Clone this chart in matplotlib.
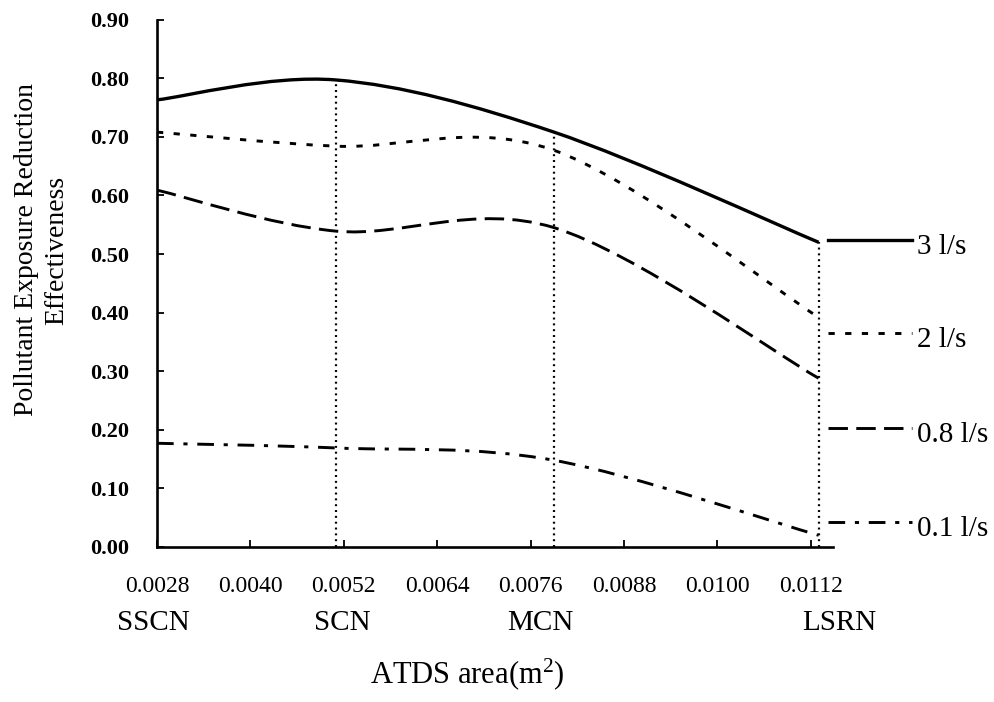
import matplotlib
matplotlib.use("Agg")
import matplotlib.pyplot as plt
from matplotlib.path import Path
from matplotlib.patches import PathPatch
from matplotlib.ticker import FormatStrFormatter

# data
cat_x = [0.0028, 0.0051, 0.0079, 0.0113]
cat_names = ["SSCN", "SCN", "MCN", "LSRN"]
flow_3 = [0.763, 0.797, 0.708, 0.520]
flow_2 = [0.708, 0.684, 0.677, 0.392]
flow_08 = [0.609, 0.539, 0.545, 0.288]
flow_01 = [0.177, 0.169, 0.148, 0.020]
series_labels = ["3 l/s", "2 l/s", "0.8 l/s", "0.1 l/s"]
x_ticks = [0.0028, 0.0040, 0.0052, 0.0064, 0.0076, 0.0088, 0.0100, 0.0112]
y_ticks = [0.0, 0.1, 0.2, 0.3, 0.4, 0.5, 0.6, 0.7, 0.8, 0.9]

plt.rcParams["font.family"] = ["Liberation Serif", "DejaVu Serif"]
plt.rcParams["lines.scale_dashes"] = False


def smooth_path(xs, ys):
    # excel style smoothed line: cubic bezier, control points at 1/6 of neighbour span
    pts = list(zip(xs, ys))
    n = len(pts)
    verts = [pts[0]]
    codes = [Path.MOVETO]
    for i in range(n - 1):
        p0 = pts[max(i - 1, 0)]
        p1 = pts[i]
        p2 = pts[i + 1]
        p3 = pts[min(i + 2, n - 1)]
        c1 = (p1[0] + (p2[0] - p0[0]) / 6, p1[1] + (p2[1] - p0[1]) / 6)
        c2 = (p2[0] - (p3[0] - p1[0]) / 6, p2[1] - (p3[1] - p1[1]) / 6)
        verts += [c1, c2, p2]
        codes += [Path.CURVE4] * 3
    return Path(verts, codes)


fig = plt.figure(figsize=(9.94, 7.02), dpi=100)
ax = fig.add_axes([157 / 994, 1 - 547 / 702, (833 - 157) / 994, (547 - 19.6) / 702])

styles = [
    dict(lw=2.4, ls="-"),
    dict(lw=2.1, ls=(0, (4.5, 7.5))),
    dict(lw=2.1, ls=(0, (14, 6))),
    dict(lw=2.1, ls=(0, (12, 7, 3, 7))),
]
all_series = [flow_3, flow_2, flow_08, flow_01]

# vertical guides up to the 3 l/s curve
ax.vlines(cat_x[1:], 0, flow_3[1:], colors="black", linestyles=(0, (1.4, 2.8)), lw=1.6)

for vals, st in zip(all_series, styles):
    patch = PathPatch(smooth_path(cat_x, vals), fill=False, edgecolor="black",
                      lw=st["lw"], linestyle=st["ls"], capstyle="butt")
    ax.add_patch(patch)

# right hand labels with line samples
label_y = [0.524, 0.365, 0.203, 0.043]
for lab, ly, st in zip(series_labels, label_y, styles):
    ax.plot([0.01142, 0.01250], [ly, ly], color="black", lw=st["lw"], ls=st["ls"], clip_on=False)
    ax.text(0.01256, ly - 0.012, lab, fontsize=21, ha="left", va="center", clip_on=False)

ax.set_xlim(0.0028, 0.011485)
ax.set_ylim(0, 0.9)
ax.set_xticks(x_ticks)
ax.set_yticks(y_ticks)
ax.xaxis.set_major_formatter(FormatStrFormatter("%.4f"))
ax.yaxis.set_major_formatter(FormatStrFormatter("%.2f"))

for s in ["top", "right"]:
    ax.spines[s].set_visible(False)
for s in ["left", "bottom"]:
    ax.spines[s].set_linewidth(1.9)

ax.tick_params(axis="both", direction="in", length=5, width=1.3, color="black")
ax.tick_params(axis="x", pad=21, labelsize=17)
ax.tick_params(axis="y", pad=20, labelsize=16)
for t in ax.get_yticklabels():
    t.set_fontweight("bold")

# category names under the tick labels
name_x = [0.00275, 0.00518, 0.00772, 0.01156]
for nx, name in zip(name_x, cat_names):
    ax.text(nx, -0.144, name, transform=ax.get_xaxis_transform(), fontsize=21,
            ha="center", va="center")

fig.text(467 / 994, 1 - 674 / 702, r"ATDS area(m$\mathregular{^2}$)", fontsize=22,
         ha="center", va="center")
fig.text(41.5 / 994, 1 - 250 / 702, "Pollutant Exposure Reduction\nEffectiveness", fontsize=20,
         rotation=90, ha="center", va="center", multialignment="center", linespacing=1.3)

fig.savefig("out.png", dpi=100)
